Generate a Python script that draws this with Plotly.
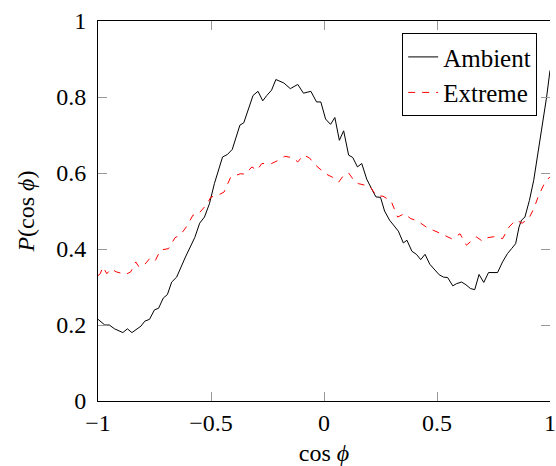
import plotly.graph_objects as go

amb_x = [-1.0, -0.99, -0.97, -0.95, -0.927, -0.89, -0.87, -0.85, -0.826, -0.81, -0.793, -0.772,
         -0.75, -0.732, -0.711, -0.693, -0.674, -0.652, -0.613, -0.572, -0.55, -0.529, -0.507,
         -0.485, -0.449, -0.427, -0.406, -0.372, -0.355, -0.314, -0.292, -0.271, -0.253, -0.232,
         -0.213, -0.178, -0.149, -0.116, -0.091, -0.058, -0.033, -0.014, 0.007, 0.029, 0.048,
         0.068, 0.087, 0.109, 0.127, 0.148, 0.167, 0.189, 0.21, 0.23, 0.25, 0.268, 0.29, 0.312,
         0.329, 0.351, 0.367, 0.389, 0.409, 0.428, 0.447, 0.468, 0.49, 0.51, 0.529, 0.547, 0.57,
         0.587, 0.609, 0.628, 0.648, 0.667, 0.686, 0.707, 0.728, 0.75, 0.768, 0.79, 0.812, 0.83,
         0.848, 0.863, 0.874, 0.889, 0.909, 0.928, 0.947, 0.967, 0.985, 1.0]
amb_y = [0.215, 0.21, 0.20, 0.20, 0.19, 0.18, 0.19, 0.18, 0.19, 0.197, 0.21, 0.215,
         0.24, 0.244, 0.271, 0.28, 0.313, 0.326, 0.379, 0.43, 0.468, 0.484, 0.519,
         0.572, 0.642, 0.649, 0.662, 0.726, 0.732, 0.804, 0.815, 0.79, 0.804, 0.818,
         0.846, 0.837, 0.822, 0.833, 0.81, 0.815, 0.787, 0.787, 0.742, 0.728, 0.746,
         0.686, 0.711, 0.647, 0.641, 0.616, 0.625, 0.584, 0.559, 0.537, 0.536, 0.5, 0.476, 0.458,
         0.447, 0.416, 0.423, 0.394, 0.386, 0.372, 0.386, 0.36, 0.344, 0.332, 0.326, 0.325, 0.303,
         0.309, 0.313, 0.306, 0.296, 0.293, 0.333, 0.312, 0.338, 0.339, 0.338, 0.366, 0.388, 0.401,
         0.414, 0.458, 0.476, 0.484, 0.528, 0.581, 0.651, 0.734, 0.80, 0.87]

ext_x = [-1.0, -0.99, -0.978, -0.961, -0.942, -0.92, -0.877, -0.855, -0.833, -0.819, -0.797,
         -0.768, -0.746, -0.724, -0.688, -0.659, -0.637, -0.609, -0.58, -0.558, -0.522, -0.5,
         -0.471, -0.442, -0.413, -0.37, -0.348, -0.319, -0.297, -0.275, -0.232, -0.203, -0.174,
         -0.137, -0.116, -0.091, -0.065, -0.036, 0.007, 0.037, 0.065, 0.087, 0.109, 0.138, 0.152,
         0.181, 0.203, 0.232, 0.261, 0.297, 0.326, 0.355, 0.384, 0.413, 0.457, 0.5, 0.529, 0.565,
         0.602, 0.63, 0.674, 0.7, 0.725, 0.761, 0.79, 0.819, 0.848, 0.877, 0.906, 0.928, 0.95,
         0.978, 1.0]
ext_y = [0.33, 0.335, 0.353, 0.335, 0.348, 0.34, 0.333, 0.34, 0.366, 0.353, 0.357,
         0.377, 0.37, 0.397, 0.401, 0.43, 0.436, 0.458, 0.489, 0.491, 0.515, 0.537,
         0.541, 0.55, 0.589, 0.598, 0.597, 0.616, 0.607, 0.625, 0.625, 0.633, 0.644,
         0.64, 0.629, 0.647, 0.64, 0.62, 0.598, 0.589, 0.576, 0.594, 0.6, 0.576, 0.572,
         0.568, 0.565, 0.54, 0.539, 0.526, 0.484, 0.493, 0.48, 0.474, 0.456, 0.445, 0.436, 0.427,
         0.44, 0.41, 0.432, 0.421, 0.43, 0.433, 0.427, 0.458, 0.476, 0.468, 0.48, 0.506, 0.541,
         0.576, 0.59]

x_ticks = [-1, -0.5, 0, 0.5, 1]
y_ticks = [0, 0.2, 0.4, 0.6, 0.8, 1]

FONT = "Liberation Serif"
TICK_SIZE = 24

fig = go.Figure()
fig.add_trace(go.Scatter(x=amb_x, y=amb_y, mode="lines", name="Ambient",
                         line=dict(color="black", width=1)))
fig.add_trace(go.Scatter(x=ext_x, y=ext_y, mode="lines", name="Extreme",
                         line=dict(color="red", width=1, dash="7px,7px")))
# invisible trace to carry right-side ticks
fig.add_trace(go.Scatter(x=[None], y=[None], yaxis="y2", showlegend=False, hoverinfo="skip"))

fig.update_layout(
    width=556, height=466,
    margin=dict(l=98, r=0, t=21, b=65),
    paper_bgcolor="white", plot_bgcolor="white",
    font=dict(family=FONT, size=TICK_SIZE, color="black"),
    showlegend=True,
    legend=dict(x=0.9716, y=0.968, xanchor="right", yanchor="top",
                bordercolor="black", borderwidth=1, bgcolor="white",
                font=dict(family=FONT, size=25), tracegroupgap=0,
                itemwidth=30),
    xaxis=dict(range=[-1, 1], tickvals=x_ticks, ticks="inside", ticklen=9,
               tickcolor="#999", tickwidth=1, showgrid=False, zeroline=False,
               showline=True, linecolor="black", linewidth=1, mirror="ticks",
               ticklabeloverflow="allow",
               title=dict(text="cos <i>ϕ</i>", standoff=12, font=dict(size=TICK_SIZE)),
               tickfont=dict(size=TICK_SIZE)),
    yaxis=dict(range=[0, 1], tickvals=y_ticks, ticks="inside", ticklen=9,
               tickcolor="#999", tickwidth=1, showgrid=False, zeroline=False,
               showline=True, linecolor="black", linewidth=1, mirror=False,
               ticklabelstandoff=6,
               title=dict(text="<i>P</i>(cos <i>ϕ</i>)", standoff=14, font=dict(size=TICK_SIZE)),
               tickfont=dict(size=TICK_SIZE)),
    yaxis2=dict(range=[0, 1], tickvals=y_ticks, ticks="inside", ticklen=9,
                tickcolor="#999", tickwidth=1, overlaying="y", side="right",
                showticklabels=False, showgrid=False, zeroline=False, showline=False),
)

fig.write_html("out.html")
